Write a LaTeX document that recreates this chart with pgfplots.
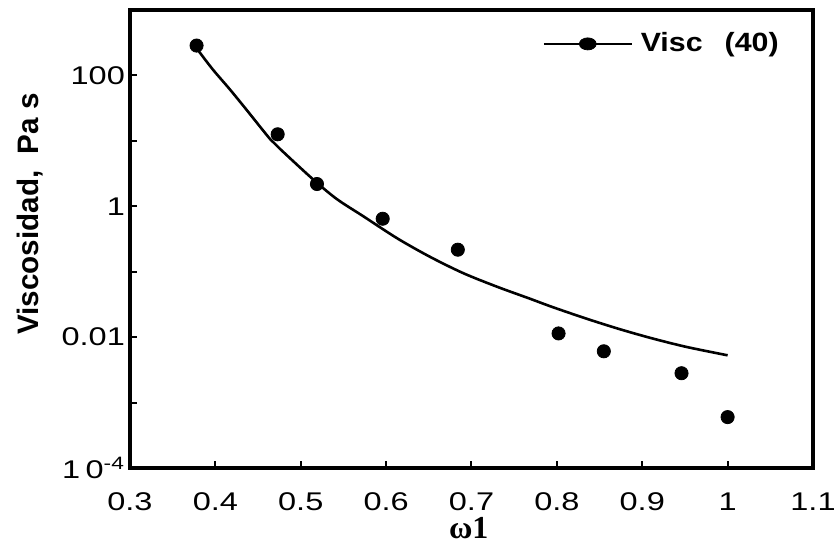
\documentclass[border=0pt]{standalone}
\usepackage{fontspec}
\usepackage{graphicx}
\usepackage{pgfplots}
\pgfplotsset{compat=1.18}
\setmainfont{Liberation Sans}
\newfontfamily\legfont[FakeStretch=1.15]{Liberation Sans}
\newfontfamily\serfont{Liberation Serif}
% wide tick numerals
\newcommand{\W}[1]{\scalebox{1.27}[1]{#1}}

\begin{document}
\begin{tikzpicture}
\begin{axis}[
  scale only axis,
  width=341.5pt, height=229pt,
  xmin=0.3, xmax=1.1,
  ymode=log, ymin=1e-4, ymax=1000,
  axis line style={line width=1.6pt},
  tick pos=left, tick align=inside,
  major tick length=3.5pt,
  tick style={line width=1pt, black},
  yminorticks=false,
  xtick={0.3,0.4,0.5,0.6,0.7,0.8,0.9,1,1.1},
  xticklabels={\W{0.3},\W{0.4},\W{0.5},\W{0.6},\W{0.7},\W{0.8},\W{0.9},\W{1},\W{1.1}},
  ytick={1e-4,1e-3,1e-2,1e-1,1,10,100},
  yticklabels={\W{1\,0}\textsuperscript{\W{-4}},,\W{0.01},,\W{1},,\W{100}},
  tick label style={font=\fontsize{12.8}{14}\selectfont},
  xticklabel style={yshift=-9pt},
  yticklabel style={xshift=1pt},
  xlabel={\serfont\bfseries ω1},
  ylabel={\bfseries Viscosidad,\ \ Pa s},
  every axis x label/.style={at={(axis description cs:0.496,-0.131)}, anchor=center,
    font=\fontsize{16}{18}\selectfont},
  every axis y label/.style={at={(axis description cs:-0.146,0.555)}, rotate=90, anchor=center,
    font=\fontsize{14.8}{17}\selectfont},
  legend style={at={(axis description cs:0.965,0.926)}, anchor=east,
    draw=none, fill=none, font=\fontsize{13.2}{15}\selectfont\legfont\bfseries},
  legend image code/.code={
    \draw[black, line width=1pt] (0pt,0pt) -- (44pt,0pt);
    \fill[black] (22pt,0pt) ellipse (4.2pt and 3pt);
  },
]
% measured viscosity
\addplot[only marks, mark=*, mark size=3.3pt, black] coordinates {
  (0.378, 286)
  (0.473, 12.6)
  (0.519, 2.19)
  (0.596, 0.645)
  (0.684, 0.217)
  (0.802, 0.0114)
  (0.855, 0.00608)
  (0.946, 0.00281)
  (1.000, 0.00060)
};
\addlegendentry{\hspace{2pt}Visc\hspace{11pt}(40)}
% fitted curve
\addplot[black, line width=1.3pt, smooth, forget plot] coordinates {
  (0.380, 240)
  (0.397, 123.3)
  (0.417, 61.2)
  (0.437, 29.3)
  (0.464, 10.7)
  (0.476, 7.48)
  (0.514, 2.61)
  (0.542, 1.297)
  (0.573, 0.708)
  (0.613, 0.324)
  (0.651, 0.170)
  (0.690, 0.0955)
  (0.730, 0.0589)
  (0.768, 0.0389)
  (0.795, 0.0288)
  (0.835, 0.0191)
  (0.874, 0.0132)
  (0.912, 0.00955)
  (0.952, 0.00708)
  (1.000, 0.00528)
};
\coordinate (bbA) at (rel axis cs:-0.1903,-0.19);
\coordinate (bbB) at (rel axis cs:1.0366,1.0218);
\end{axis}
\pgfresetboundingbox
\useasboundingbox (bbA) rectangle (bbB);
\end{tikzpicture}
\end{document}
